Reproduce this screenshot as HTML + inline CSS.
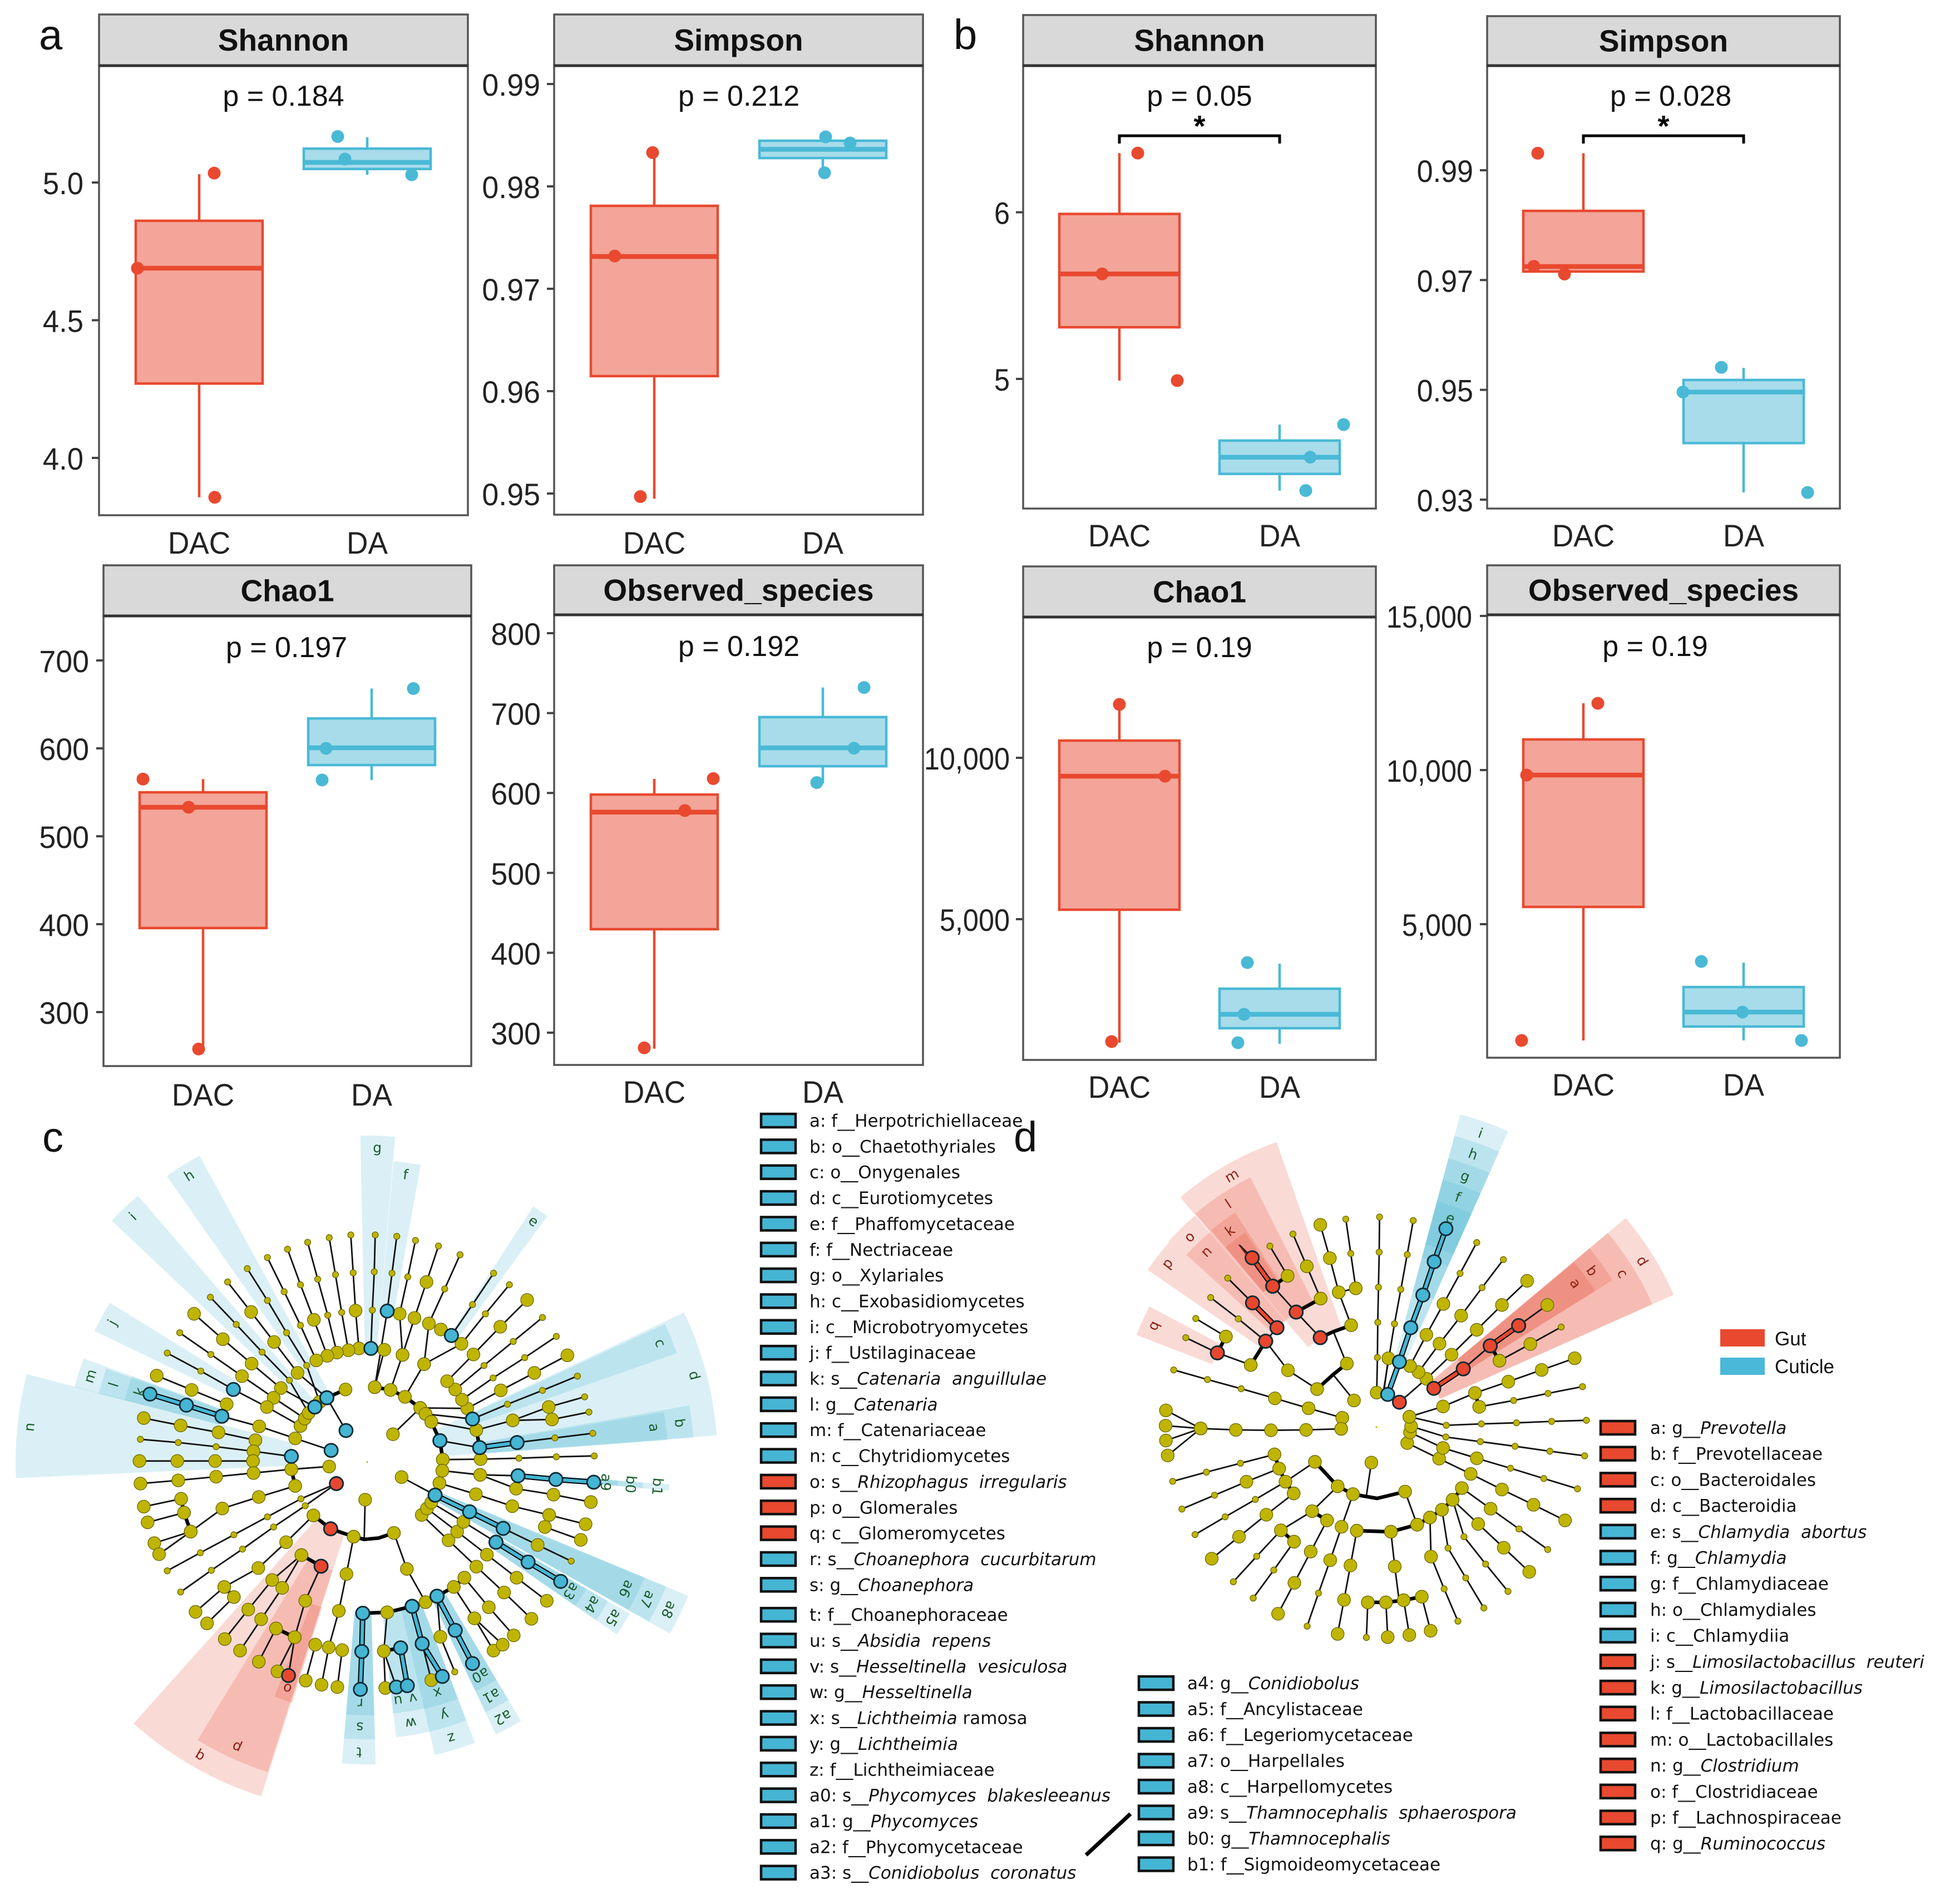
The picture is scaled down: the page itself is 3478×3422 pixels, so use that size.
<!DOCTYPE html>
<html lang="en">
<head>
<meta charset="utf-8">
<title>Alpha diversity boxplots and LEfSe cladograms</title>
<style>
html,body{margin:0;padding:0;background:#fff;}
svg{display:block;}
.sans{font-family:"Liberation Sans",sans-serif;}
.dv{font-family:"DejaVu Sans",sans-serif;}
</style>
</head>
<body>
<svg id="figure" xmlns="http://www.w3.org/2000/svg" width="3478" height="3422" viewBox="0 0 3478 3422">
  <rect x="0" y="0" width="3478" height="3422" fill="#fff"/>
  <text class="sans" x="70" y="89" font-size="76" fill="#111">a</text>
  <text class="sans" x="1714" y="88" font-size="76" fill="#111">b</text>
  <text class="sans" x="76" y="2070" font-size="76" fill="#111">c</text>
  <text class="sans" x="1822" y="2069" font-size="76" fill="#111">d</text>
  <rect x="3092" y="2389" width="80" height="31" fill="#e8492f"/>
  <text class="sans" x="3190" y="2418" font-size="35" fill="#111">Gut</text>
  <rect x="3092" y="2440" width="80" height="31" fill="#4ab8d8"/>
  <text class="sans" x="3190" y="2468" font-size="35" fill="#111">Cuticle</text>
  <line x1="1952" y1="3334" x2="2032" y2="3260" stroke="#000" stroke-width="7"/>
</svg>
<script>
/* ---------- box plot data: five-number summaries are [low, q1, median, q3, high] ---------- */
const boxCategories = ["DAC", "DA"];

const aShannonTicks = [4, 4.5, 5];
const aShannonTickLabels = ["4.0", "4.5", "5.0"];
const aShannonDac = [3.857, 4.27, 4.689, 4.861, 5.03];
const aShannonDa = [5.028, 5.049, 5.073, 5.123, 5.164];
const aShannonDacPoints = [4.689, 5.034, 3.857];
const aShannonDaPoints = [5.167, 5.085, 5.028];

const aSimpsonTicks = [0.95, 0.96, 0.97, 0.98, 0.99];
const aSimpsonTickLabels = ["0.95", "0.96", "0.97", "0.98", "0.99"];
const aSimpsonDac = [0.9495, 0.96147, 0.97315, 0.9781, 0.98337];
const aSimpsonDa = [0.9814, 0.98277, 0.98362, 0.98446, 0.9848];
const aSimpsonDacPoints = [0.9732, 0.9833, 0.9497];
const aSimpsonDaPoints = [0.98484, 0.98424, 0.98133];

const aChaoTicks = [300, 400, 500, 600, 700];
const aChaoTickLabels = ["300", "400", "500", "600", "700"];
const aChaoDac = [258, 395.6, 533, 550, 565];
const aChaoDa = [564, 581, 600.6, 634, 668];
const aChaoDacPoints = [565, 533, 258];
const aChaoDaPoints = [668, 600, 564];

const aObservedTicks = [300, 400, 500, 600, 700, 800];
const aObservedTickLabels = ["300", "400", "500", "600", "700", "800"];
const aObservedDac = [280, 429.5, 576, 598, 617.6];
const aObservedDa = [612, 633.5, 656.5, 695, 732];
const aObservedDacPoints = [618, 578, 281];
const aObservedDaPoints = [732, 656, 613];

const bShannonTicks = [5, 6];
const bShannonTickLabels = ["5", "6"];
const bShannonDac = [4.99, 5.31, 5.63, 5.99, 6.355];
const bShannonDa = [4.33, 4.43, 4.53, 4.63, 4.726];
const bShannonDacPoints = [6.355, 5.63, 4.99];
const bShannonDaPoints = [4.726, 4.53, 4.33];

const bSimpsonTicks = [0.93, 0.95, 0.97, 0.99];
const bSimpsonTickLabels = ["0.93", "0.95", "0.97", "0.99"];
const bSimpsonDac = [0.97155, 0.97155, 0.97246, 0.9826, 0.9931];
const bSimpsonDa = [0.9313, 0.9403, 0.9496, 0.9518, 0.954];
const bSimpsonDacPoints = [0.9931, 0.9725, 0.9711];
const bSimpsonDaPoints = [0.9541, 0.9496, 0.9313];

const bChaoTicks = [5000, 10000];
const bChaoTickLabels = ["5,000", "10,000"];
const bChaoDac = [1172, 5293, 9431, 10534, 11758];
const bChaoDa = [1138, 1621, 2052, 2845, 3620];
const bChaoDacPoints = [11655, 9431, 1207];
const bChaoDaPoints = [3655, 2052, 1172];

const bObservedTicks = [5000, 10000, 15000];
const bObservedTickLabels = ["5,000", "10,000", "15,000"];
const bObservedDac = [1228, 5560, 9837, 10993, 12166];
const bObservedDa = [1228, 1679, 2148, 2960, 3754];
const bObservedDacPoints = [12166, 9837, 1228];
const bObservedDaPoints = [3790, 2148, 1228];

/* ---------- cladogram data: each chain is x,y,kind triples in layout units
   kind: 0 no node, 1 small, 2 large, 3 cuticle-enriched, 4 gut-enriched ---------- */
const treeCThin = [
[774,571,3,777,488,1,781,405,1,783,325,1],[782,655,2,808,490,3,818,408,1,828,328,1],[802,574,2,782,655,2],
[749,571,2,742,489,2,737,407,1,732,325,1],[727,575,2,713,493,1,700,411,1,687,331,1],[703,580,2,684,499,1,663,421,1,642,341,1],
[683,587,2,655,509,2,627,433,1,600,356,1],[660,597,2,627,521,1,593,448,1,558,374,1],[667,687,2,640,608,1,598,537,1,558,467,1,516,398,1],
[682,678,3,621,624,2,572,557,2,524,492,2,475,427,1],[644,711,2,604,640,1,547,579,1,493,519,1,439,460,1],[657,698,3,586,657,2,525,604,2,465,551,2,405,496,2],
[636,723,2,571,678,2,505,631,2,440,584,1,375,537,1],[627,739,2,557,698,2,487,660,3,419,620,1,349,581,1],[691,792,3,616,766,2,541,740,2,463,718,3],
[473,692,2,400,661,2,327,630,2],[533,770,2,456,753,2,377,738,2,300,722,2],[722,749,3,682,678,3],
[608,805,3,529,794,2,451,784,1,372,775,1,293,768,1],[528,815,2,449,815,2,370,815,2,291,815,2],
[687,827,2,608,833,2,529,841,2,451,849,2,372,857,2,293,864,2],[616,869,2,540,893,2,464,918,2,398,968,2],[378,897,2,300,914,2],[384,927,2,308,948,2],
[398,968,2,322,993,2],[398,968,2,332,1017,2],[702,864,4,628,897,1,558,936,1,488,975,1,418,1014,1,349,1053,1],
[702,864,4,637,912,1,571,958,1,506,1006,1,441,1052,1,377,1099,1],[654,933,2,597,991,2,539,1047,2,468,1088,2,408,1142,2],[488,1110,2,432,1167,2],
[629,1019,2,568,1073,2,518,1137,2,469,1201,2],[629,1019,2,589,1090,2,545,1158,2,501,1226,2],[670,1043,4,637,1118,2,615,1197,2,602,1280,4],
[615,1197,2,579,1271,2],[576,1178,2,540,1250,2],[762,899,2,760,985,0],[738,979,2,723,1060,2,707,1140,2,686,1219,2,671,1300,2],
[658,1213,2,638,1291,2],[714,1225,2,704,1305,2],[822,971,2,849,1049,2,888,1121,2],[808,1143,2,801,1227,2,804,1307,2],[801,1227,2,827,1305,3],
[881,1211,3,900,1290,2],[912,1108,3,919,1196,2,949,1272,1],[947,1088,2,990,1156,2,1030,1226,2],[990,1156,2,1049,1213,2],[969,1068,2,1020,1132,2,1072,1193,2],
[880,932,2,936,987,2,994,1044,2,1052,1100,2,1109,1157,2],[891,918,2,954,968,2,1016,1018,2,1078,1068,2,1141,1118,2],[900,905,2,967,947,2,1035,991,3],
[1050,961,3,1122,997,2,1192,1032,1],[838,850,2,908,889,3],[917,863,2,993,887,2,1069,913,2,1146,932,2,1222,952,2],[1137,958,2,1212,986,2],
[923,836,2,1002,845,2,1077,875,2,1155,888,2,1233,904,2],[1002,845,2,1081,847,3],[924,812,2,1003,811,2,1083,809,1,1161,806,1,1240,804,1],
[1079,775,3,1158,765,1,1237,755,1],[918,771,3,1001,786,3],[900,730,2,994,748,2,1070,727,2,1152,725,2,1229,709,1],[1070,727,2,1145,698,2,1220,676,1],
[888,713,2,986,724,3,1059,692,1,1132,662,1,1205,631,1],[877,700,2,975,701,2,1045,662,2,1115,624,2,1184,586,2],[964,682,2,1029,635,1,1095,591,1,1161,545,1],
[950,660,2,1010,608,1,1071,556,1,1132,504,1],[933,642,2,988,584,2,1044,524,2,1100,466,2],[885,605,2,963,561,2,1013,496,1,1063,433,1],
[942,543,3,986,476,1,1030,408,1],[885,605,2,895,517,2,928,442,1,960,368,1],[840,585,2,865,505,2,890,427,2,915,349,1],[840,585,2,834,496,2,851,416,1,867,337,1],
[840,585,2,815,661,2],[885,605,2,845,676,2],[820,757,2,877,700,2]
];
const treeCThick = [
[682,678,3,721,660,2],[782,655,2,815,661,2,845,676,2,877,700,2,888,713,2,900,730,2,918,771,3],[918,771,3,924,812,2,923,836,2,917,863,2,908,889,3],
[627,739,2,636,723,2,644,711,2,657,698,3,667,687,2],[608,833,2,616,869,2],[533,770,2,529,794,2,528,815,2,529,841,2],[384,927,2,378,897,2],[384,927,2,398,968,2],
[654,933,2,690,962,4],[690,962,4,738,979,2],[738,979,2,760,985,0,790,982,0,822,971,2],[629,1019,2,670,1043,4],[576,1178,2,615,1197,2],
[757,1145,3,808,1143,2,860,1130,3],[801,1227,2,836,1220,3],[912,1108,3,947,1088,2,969,1068,2],[1001,786,3,994,748,2],[1146,932,2,1137,958,2],
[468,1088,2,488,1110,2],[860,1130,3,888,1121,2,912,1108,3],[920,530,2,942,543,3]
];
const treeCBlue = [
[313,670,3,389,694,3,463,718,3],[1001,786,3,1079,775,3],[1081,847,3,1160,855,3,1239,861,3],[908,889,3,980,925,3,1050,961,3],[1035,991,3,1102,1034,3,1170,1076,3],
[757,1145,3,755,1228,3,752,1310,3],[836,1220,3,850,1302,3],[860,1130,3,881,1211,3,923,1282,3],[912,1108,3,950,1182,3,986,1254,3]
];
const treeCRed = [];
/* clade shading: letter, start angle, end angle, inner level, outer level, group (c = cuticle, g = gut) */
const treeCClades = [
["d",-25.3,-4.4,137,630,"c"],["c",-24.9,-19.4,205,590,"c"],["b",-10,-4.3,203,588,"c"],["a",-9.6,-4.2,203,541,"c"],
["e",-57,-53.8,273,548,"c"],["f",-85,-79.8,274,543,"c"],["g",-91.2,-85.1,205,587,"c"],["h",-125,-118.7,137,628,"c"],["i",-136.6,-130.7,137,632,"c"],
["j",-154.3,-148.2,273,544,"c"],["k",-165.6,-160,274,450,"c"],["l",-165.7,-160.3,274,498,"c"],["m",-165.6,-159.9,274,543,"c"],["n",-182.6,-165.5,137,632,"c"],
["o",107.3,111.6,273,453,"g"],["p",107.8,121.4,204,585,"g"],["q",107.6,131.8,136,630,"g"],
["r",88.4,94.8,271,455,"c"],["s",88.4,94.8,271,498,"c"],["t",88.4,94.8,271,543,"c"],
["u",81,84.2,271,454,"c"],["v",77,81,271,454,"c"],["w",77,84,271,497,"c"],["x",69,77,271,455,"c"],["y",69,77,271,497,"c"],["z",69,77,271,540,"c"],
["a0",59.3,64.7,271,455,"c"],["a1",59.3,64.7,271,497,"c"],["a2",59.3,64.7,271,541,"c"],
["a3",30,34.6,272,455,"c"],["a4",30,34.6,272,500,"c"],["a5",30,34.6,272,545,"c"],
["a6",22.6,29.5,135,540,"c"],["a7",22.6,29.5,135,582,"c"],["a8",22.6,29.5,135,625,"c"],
["a9",4.2,5.4,270,452,"c"],["b0",4.2,5.4,270,497,"c"],["b1",4.2,5.4,270,545,"c"]
];

const treeDThin = [
[808,847,4,884,781,2,955,713,2,1026,643,2,1097,573,2,1168,505,2],[862,762,2,921,682,2,982,603,2,1041,524,1,1101,445,1],[838,745,2,884,657,2,932,570,2,979,484,1,1026,397,1],
[777,723,2,765,810,0],[744,820,2,746,721,1,747,622,1,749,523,1,751,424,1,752,325,1],[762,822,0,794,626,1,812,529,1,830,431,1,847,335,1],
[1144,631,4,1225,573,2],[1090,730,2,1177,683,2,1264,635,1],[988,753,4,1064,688,4],[680,842,2,622,770,0],[622,648,0,655,728,0],
[585,665,4,517,593,4,451,520,4],[393,440,4,358,405,0],[586,555,2,547,464,2,508,373,1],[493,491,2,443,407,1],[672,630,2,637,537,2,612,441,2,585,347,2],[685,526,2,671,428,1,657,331,1],
[637,537,2,685,526,2],[576,810,2,494,757,2,431,675,4],[431,675,4,463,637,4],[394,567,4,324,497,1],[431,675,4,354,612,1,276,552,1],[389,742,2,295,708,4,206,665,1],[319,662,2,234,611,1],
[647,891,2,552,864,2,457,836,2,362,809,1,267,783,1,172,756,1],[644,922,2,545,925,2,446,926,2,347,925,2,248,921,2],[248,921,2,150,870,2],[248,921,2,149,913,2],[248,921,2,150,955,2],[248,921,2,155,997,2],
[729,1017,2,715,1110,0],[570,1015,2,487,1071,2,402,1121,1,317,1170,1,232,1220,1],[456,994,2,360,1019,1,264,1044,1,169,1070,1],[469,1034,2,377,1071,2,287,1109,1,195,1148,1],
[510,1104,2,433,1164,2,356,1226,2,279,1288,2],[634,1084,2,562,1154,2,474,1208,2,406,1281,1,340,1353,1],[604,1180,2,558,1268,2,512,1356,2,466,1443,2],[511,1240,2,454,1320,1,396,1399,1],
[677,1106,2,645,1198,2,613,1292,2,580,1385,1,548,1478,1],[824,1099,2,858,1192,2],[688,1209,2,670,1307,2,652,1404,2,634,1500,2],[784,1212,2,795,1310,2,807,1405,0],
[719,1411,2,715,1510,1],[770,1411,2,775,1509,2],[820,1405,2,836,1503,2],[871,1395,2,896,1491,2],
[894,1172,2,897,1282,2,934,1373,1,973,1464,1],[928,1150,2,945,1258,1,995,1342,1,1046,1427,1],[958,1122,2,990,1226,1,1051,1303,1,1114,1380,1],[958,1122,2,1030,1190,2,1102,1257,2,1174,1325,2],
[984,1089,2,1065,1147,2,1145,1204,1,1226,1262,1],[830,962,2,920,1006,2,1009,1049,2,1097,1093,2,1186,1136,2,1275,1180,2],[838,932,2,931,976,2,1026,1005,2,1121,1033,1,1215,1062,1,1310,1091,1],
[841,915,2,939,945,1,1036,958,1,1134,971,1,1232,985,1,1330,998,1],[836,888,2,940,912,1,1039,908,1,1138,905,1,1237,901,1,1335,898,1],[836,888,2,931,859,2,1021,821,2,1115,789,2,1209,756,2,1302,723,2],
[1033,860,2,1130,842,1,1227,822,1,1324,803,1]
];
const treeDThick = [
[576,810,2,620,770,0,660,738,2],[672,630,2,622,648,0,585,665,4],[586,555,2,517,593,4],[493,491,2,451,520,4],[431,675,4,389,742,2],[295,708,4,319,662,2],[647,891,2,644,922,2],
[570,1015,2,634,1084,2,677,1106,2],[677,1106,2,745,1118,0,824,1099,2],[456,994,2,469,1034,2,487,1071,2,510,1104,2],[562,1154,2,604,1180,2],[474,1208,2,511,1240,2],
[858,1192,2,784,1212,2,688,1209,2],[719,1411,2,770,1411,2,820,1405,2,871,1395,2],[858,1192,2,894,1172,2,928,1150,2,958,1122,2,984,1089,2],[1021,821,2,1033,860,2],[1064,688,4,1090,730,2]
];
const treeDBlue = [[775,825,3,808,733,3,840,637,3,874,545,3,906,451,3,939,358,3]];
const treeDRed = [[905,808,4,988,753,4],[1064,688,4,1144,631,4],[463,637,4,394,567,4],[451,520,4,393,440,4]];
const treeDClades = [
["d",-40,-24,125,585,"g"],["c",-40,-24,125,543,"g"],["b",-40,-31.9,190,500,"g"],["a",-39.8,-31.9,190,463,"g"],
["i",-75,-66,125,582,"c"],["h",-75,-66,189,542,"c"],["g",-75,-66,252,500,"c"],["f",-75,-66,316,460,"c"],["e",-75,-66,340,420,"c"],
["m",-130.5,-109.3,189,543,"g"],["l",-130.3,-116.8,252,503,"g"],["k",-130,-123.4,316,462,"g"],["j",-130,-124,316,422,"g"],
["n",-137.8,-130.4,252,461,"g"],["o",-138.4,-130.6,252,501,"g"],["p",-145.5,-138.4,252,499,"g"],["q",-159,-152,316,462,"g"]
];

/* ---------- legend text: prefix, italic part, suffix, group ---------- */
const legendCEntries = [
["a: f__Herpotrichiellaceae","","","c"],["b: o__Chaetothyriales","","","c"],["c: o__Onygenales","","","c"],["d: c__Eurotiomycetes","","","c"],
["e: f__Phaffomycetaceae","","","c"],["f: f__Nectriaceae","","","c"],["g: o__Xylariales","","","c"],["h: c__Exobasidiomycetes","","","c"],
["i: c__Microbotryomycetes","","","c"],["j: f__Ustilaginaceae","","","c"],["k: s__","Catenaria  anguillulae","","c"],["l: g__","Catenaria","","c"],
["m: f__Catenariaceae","","","c"],["n: c__Chytridiomycetes","","","c"],["o: s__","Rhizophagus  irregularis","","g"],["p: o__Glomerales","","","g"],
["q: c__Glomeromycetes","","","g"],["r: s__","Choanephora  cucurbitarum","","c"],["s: g__","Choanephora","","c"],["t: f__Choanephoraceae","","","c"],
["u: s__","Absidia  repens","","c"],["v: s__","Hesseltinella  vesiculosa","","c"],["w: g__","Hesseltinella","","c"],["x: s__","Lichtheimia"," ramosa","c"],
["y: g__","Lichtheimia","","c"],["z: f__Lichtheimiaceae","","","c"],["a0: s__","Phycomyces  blakesleeanus","","c"],["a1: g__","Phycomyces","","c"],
["a2: f__Phycomycetaceae","","","c"],["a3: s__","Conidiobolus  coronatus","","c"]
];
const legendC2Entries = [
["a4: g__","Conidiobolus","","c"],["a5: f__Ancylistaceae","","","c"],["a6: f__Legeriomycetaceae","","","c"],["a7: o__Harpellales","","","c"],
["a8: c__Harpellomycetes","","","c"],["a9: s__","Thamnocephalis  sphaerospora","","c"],["b0: g__","Thamnocephalis","","c"],["b1: f__Sigmoideomycetaceae","","","c"]
];
const legendDEntries = [
["a: g__","Prevotella","","g"],["b: f__Prevotellaceae","","","g"],["c: o__Bacteroidales","","","g"],["d: c__Bacteroidia","","","g"],
["e: s__","Chlamydia  abortus","","c"],["f: g__","Chlamydia","","c"],["g: f__Chlamydiaceae","","","c"],["h: o__Chlamydiales","","","c"],["i: c__Chlamydiia","","","c"],
["j: s__","Limosilactobacillus  reuteri","","g"],["k: g__","Limosilactobacillus","","g"],["l: f__Lactobacillaceae","","","g"],["m: o__Lactobacillales","","","g"],
["n: g__","Clostridium","","g"],["o: f__Clostridiaceae","","","g"],["p: f__Lachnospiraceae","","","g"],["q: g__","Ruminococcus","","g"]
];

/* ---------- layout (geometry only) ---------- */
const RED = "#e8492f", BLUE = "#49b9d6", RED_FILL = "#f3a59a", BLUE_FILL = "#a8dcea";
const NS = "http://www.w3.org/2000/svg";
const svg = document.getElementById("figure");

function mk(tag, attrs, parent) {
  const n = document.createElementNS(NS, tag);
  for (const k in attrs) n.setAttribute(k, attrs[k]);
  (parent || svg).appendChild(n);
  return n;
}

const panelLayouts = [
 {id:"a-shannon",title:"Shannon",p:"p = 0.184",px:509.5,pb:190,L:178,R:841,T:26,S:118,B:926,xs:[358,660],hw:114,dom:[4,5],rng:[823,328],labelX:150,catY:995,sx:0.94,
  ticks:aShannonTicks,tl:aShannonTickLabels,s:[aShannonDac,aShannonDa],pts:[aShannonDacPoints,aShannonDaPoints],jit:[[-111,27,28],[-53,-40,80]]},
 {id:"a-simpson",title:"Simpson",p:"p = 0.212",px:1328,pb:190,L:996,R:1659,T:26,S:118,B:925,xs:[1176,1479],hw:114,dom:[0.95,0.99],rng:[887,151],labelX:971,catY:995,sx:0.96,
  ticks:aSimpsonTicks,tl:aSimpsonTickLabels,s:[aSimpsonDac,aSimpsonDa],pts:[aSimpsonDacPoints,aSimpsonDaPoints],jit:[[-71,-3,-25],[5,49,3]]},
 {id:"a-chao1",title:"Chao1",p:"p = 0.197",px:515,pb:1181,L:186,R:847,T:1016,S:1107,B:1916,xs:[365,668],hw:114,dom:[300,700],rng:[1819,1187],labelX:160,catY:1987,sx:0.96,
  ticks:aChaoTicks,tl:aChaoTickLabels,s:[aChaoDac,aChaoDa],pts:[aChaoDacPoints,aChaoDaPoints],jit:[[-108,-26,-8],[75,-82,-89]]},
 {id:"a-observed",title:"Observed_species",p:"p = 0.192",px:1328,pb:1179,L:996,R:1659,T:1016,S:1105,B:1914,xs:[1176,1479],hw:114,dom:[300,800],rng:[1856,1138],labelX:972,catY:1982,sx:0.96,
  ticks:aObservedTicks,tl:aObservedTickLabels,s:[aObservedDac,aObservedDa],pts:[aObservedDacPoints,aObservedDaPoints],jit:[[106,55,-18],[74,56,-11]]},
 {id:"b-shannon",title:"Shannon",p:"p = 0.05",px:2156,pb:190,L:1839,R:2473,T:27,S:118,B:914,xs:[2012,2300],hw:108,dom:[5,6],rng:[681,381.5],labelX:1815,catY:982,bracket:true,sx:0.9,
  ticks:bShannonTicks,tl:bShannonTickLabels,s:[bShannonDac,bShannonDa],pts:[bShannonDacPoints,bShannonDaPoints],jit:[[33,-31,104],[115,55,47]]},
 {id:"b-simpson",title:"Simpson",p:"p = 0.028",px:3003,pb:190,L:2673,R:3307,T:29,S:118,B:914,xs:[2846,3134],hw:108,dom:[0.93,0.99],rng:[898,306],labelX:2648,catY:982,bracket:true,sx:0.93,
  ticks:bSimpsonTicks,tl:bSimpsonTickLabels,s:[bSimpsonDac,bSimpsonDa],pts:[bSimpsonDacPoints,bSimpsonDaPoints],jit:[[-82,-89,-34],[-40,-109,115]]},
 {id:"b-chao1",title:"Chao1",p:"p = 0.19",px:2156,pb:1181,L:1839,R:2473,T:1018,S:1109,B:1905,xs:[2012,2300],hw:108,dom:[5000,10000],rng:[1652,1362],labelX:1815,catY:1973,sx:0.9,
  ticks:bChaoTicks,tl:bChaoTickLabels,s:[bChaoDac,bChaoDa],pts:[bChaoDacPoints,bChaoDaPoints],jit:[[0,82,-14],[-58,-64,-75]]},
 {id:"b-observed",title:"Observed_species",p:"p = 0.19",px:2975,pb:1179,L:2673,R:3307,T:1016,S:1105,B:1901,xs:[2846,3134],hw:108,dom:[5000,15000],rng:[1661,1107],labelX:2646,catY:1969,sx:0.9,
  ticks:bObservedTicks,tl:bObservedTickLabels,s:[bObservedDac,bObservedDa],pts:[bObservedDacPoints,bObservedDaPoints],jit:[[26,-102,-111],[-76,-2,104]]}
];

function drawPanel(P) {
  const g = mk("g", {});
  
  
  const y = v => P.rng[0] + (v - P.dom[0]) * (P.rng[1] - P.rng[0]) / (P.dom[1] - P.dom[0]);

  const plot = mk("rect", {x:P.L,y:P.S,width:P.R-P.L,height:P.B-P.S,fill:"#fff",stroke:"#555","stroke-width":3.5}, g);
  
  

  const strip = mk("rect", {x:P.L,y:P.T,width:P.R-P.L,height:P.S-P.T,fill:"#d9d9d9",stroke:"#555","stroke-width":3.5}, g);
  
  

  const stripEdge = mk("line", {x1:P.L,x2:P.R,y1:P.S,y2:P.S,stroke:"#333","stroke-width":5}, g);
  
  

  const title = mk("text", {x:(P.L+P.R)/2,y:(P.T+P.S)/2+19,"text-anchor":"middle","font-size":55,"font-weight":"bold",fill:"#111",class:"sans"}, g);
  
  
  title.textContent = P.title;

  const pText = mk("text", {x:P.px,y:P.pb,"text-anchor":"middle","font-size":52,fill:"#111",class:"sans"}, g);
  
  
  pText.textContent = P.p;

  P.ticks.forEach((t, i) => {
    const tick = mk("line", {x1:P.L-13,x2:P.L,y1:y(t),y2:y(t),stroke:"#444","stroke-width":4}, g);
    
    
    const lab = mk("text", {x:0,y:0,"text-anchor":"end","font-size":56,fill:"#222",class:"sans",transform:"translate("+P.labelX+" "+(y(t)+21)+") scale("+P.sx+" 1)"}, g);
    
    
    lab.textContent = P.tl[i];
  });

  boxCategories.forEach((cat, c) => {
    const s = P.s[c], cx = P.xs[c];
    const stroke = c === 0 ? RED : BLUE, fill = c === 0 ? RED_FILL : BLUE_FILL;

    const lab = mk("text", {x:0,y:0,"text-anchor":"middle","font-size":56,fill:"#222",class:"sans",transform:"translate("+cx+" "+P.catY+") scale(0.95 1)"}, g);
    
    
    lab.textContent = cat;

    const whisk = mk("line", {x1:cx,x2:cx,y1:y(s[0]),y2:y(s[4]),stroke:stroke,"stroke-width":4.5}, g);
    
    

    const box = mk("rect", {x:cx-P.hw,y:y(s[3]),width:2*P.hw,height:y(s[1])-y(s[3]),fill:fill,stroke:stroke,"stroke-width":4.5}, g);
    
    

    const med = mk("line", {x1:cx-P.hw,x2:cx+P.hw,y1:y(s[2]),y2:y(s[2]),stroke:stroke,"stroke-width":8.5}, g);
    
    

    P.pts[c].forEach((v, i) => {
      const dot = mk("circle", {cx:cx+P.jit[c][i],cy:y(v),r:11.5,fill:stroke}, g);
      
      
    });
  });

  if (P.bracket) {
    const br = mk("path", {d:"M"+P.xs[0]+" 258V244H"+P.xs[1]+"V258",fill:"none",stroke:"#000","stroke-width":5}, g);
    
    
    const star = mk("text", {x:(P.xs[0]+P.xs[1])/2,y:245,"text-anchor":"middle","font-size":54,"font-weight":"bold",fill:"#000",class:"sans"}, g);
    
    
    star.textContent = "*";
  }
}
panelLayouts.forEach(drawPanel);

/* ---------- cladograms ---------- */
const NODE_FILL = {1:"#bfb500",2:"#bfb500",3:"#45b5d4",4:"#e8472f"};
const NODE_R = {1:5.5,2:11.5,3:12,4:12};

function triples(ch) {
  const out = [];
  for (let i = 0; i < ch.length; i += 3) out.push([ch[i], ch[i+1], ch[i+2]]);
  return out;
}

function drawTree(id, thin, thick, blue, red, clades, xS, yS, cx, cy) {
  const g = mk("g", {});
  
  

  clades.forEach(c => {
    const a0 = c[1]*Math.PI/180, a1 = c[2]*Math.PI/180, r0 = c[3], r1 = c[4];
    const large = Math.abs(c[2]-c[1]) > 180 ? 1 : 0;
    const d = "M"+(cx+r0*Math.cos(a0))+" "+(cy+r0*Math.sin(a0))+
      "L"+(cx+r1*Math.cos(a0))+" "+(cy+r1*Math.sin(a0))+
      "A"+r1+" "+r1+" 0 "+large+" 1 "+(cx+r1*Math.cos(a1))+" "+(cy+r1*Math.sin(a1))+
      "L"+(cx+r0*Math.cos(a1))+" "+(cy+r0*Math.sin(a1))+
      "A"+r0+" "+r0+" 0 "+large+" 0 "+(cx+r0*Math.cos(a0))+" "+(cy+r0*Math.sin(a0))+"Z";
    const w = mk("path", {d:d,fill:c[5]==="g"?"#e8472f":"#45b5d4","fill-opacity":0.2}, g);
    
    
  });

  const linePts = ch => triples(ch).map(t => xS(t[0]).toFixed(1)+","+yS(t[1]).toFixed(1)).join(" ");
  const addLines = (list, color, width, name) => list.forEach(ch => {
    const l = mk("polyline", {points:linePts(ch),fill:"none",stroke:color,"stroke-width":width,"stroke-linejoin":"round"}, g);
    
    
  });
  addLines(thin, "#111", 2.8, "branch");
  addLines(thick, "#000", 6.5, "thick-branch");
  addLines(blue, "#000", 10, "cuticle-branch-outline");
  addLines(blue, "#45b5d4", 6, "cuticle-branch");
  addLines(red, "#000", 10, "gut-branch-outline");
  addLines(red, "#e8472f", 6, "gut-branch");

  const all = thin.concat(thick, blue, red);
  [[1,2],[3,4]].forEach(kinds => {
    all.forEach(ch => triples(ch).forEach(t => {
      if (kinds.indexOf(t[2]) < 0) return;
      const isFlag = t[2] > 2;
      const n = mk("circle", {cx:xS(t[0]),cy:yS(t[1]),r:NODE_R[t[2]],fill:NODE_FILL[t[2]],stroke:isFlag?"#0c2a33":"#6e6800","stroke-width":isFlag?2.8:1.3}, g);
      
      
    }));
  });

  clades.forEach(c => {
    const mid = (c[1]+c[2])/2, r = c[4]-22, a = mid*Math.PI/180;
    const lx = cx+r*Math.cos(a), ly = cy+r*Math.sin(a);
    const t = mk("text", {x:lx,y:ly+8,"text-anchor":"middle","font-size":25,fill:c[5]==="g"?"#8a1f14":"#1a5c2c",class:"dv",transform:"rotate("+(mid+90)+" "+lx+" "+ly+")"}, g);
    
    
    t.textContent = c[0];
  });

  const centre = mk("circle", {cx:cx,cy:cy,r:1.5,fill:"#bfb500"}, g);
  
  
}

drawTree("c", treeCThin, treeCThick, treeCBlue, treeCRed, treeCClades, v => v/1.161, v => 1950+v/1.206, 660, 2628);
drawTree("d", treeDThin, treeDThick, treeDBlue, treeDRed, treeDClades, v => 2000+v/1.568, v => 1980+v/1.568, 2474, 2565);

/* ---------- taxon legends ---------- */
function drawLegend(id, entries, swatchX, swatchW, textX, startY, pitch, gapAfter, gap) {
  const g = mk("g", {});
  
  
  entries.forEach((e, i) => {
    const cy = startY + i*pitch + (gapAfter >= 0 && i > gapAfter ? gap : 0);
    const sw = mk("rect", {x:swatchX,y:cy-12,width:swatchW,height:24,fill:e[3]==="g"?"#e8492f":"#45b5d4",stroke:"#111","stroke-width":4.5}, g);
    
    
    const t = mk("text", {x:textX,y:cy+11,"font-size":31,fill:"#111",class:"dv",style:"white-space:pre"}, g);
    
    
    const a = mk("tspan", {}, t);
    a.textContent = e[0];
    if (e[1]) {
      const b = mk("tspan", {"font-style":"italic"}, t);
      b.textContent = e[1];
    }
    if (e[2]) {
      const c = mk("tspan", {}, t);
      c.textContent = e[2];
    }
  });
}
drawLegend("c-main", legendCEntries, 1368, 62, 1455, 2014, 46.35, 18, 7.5);
drawLegend("c-continued", legendC2Entries, 2047, 62, 2134, 3025, 46.5, -1, 0);
drawLegend("d", legendDEntries, 2877, 62, 2966, 2566, 46.7, -1, 0);
</script>
</body>
</html>
